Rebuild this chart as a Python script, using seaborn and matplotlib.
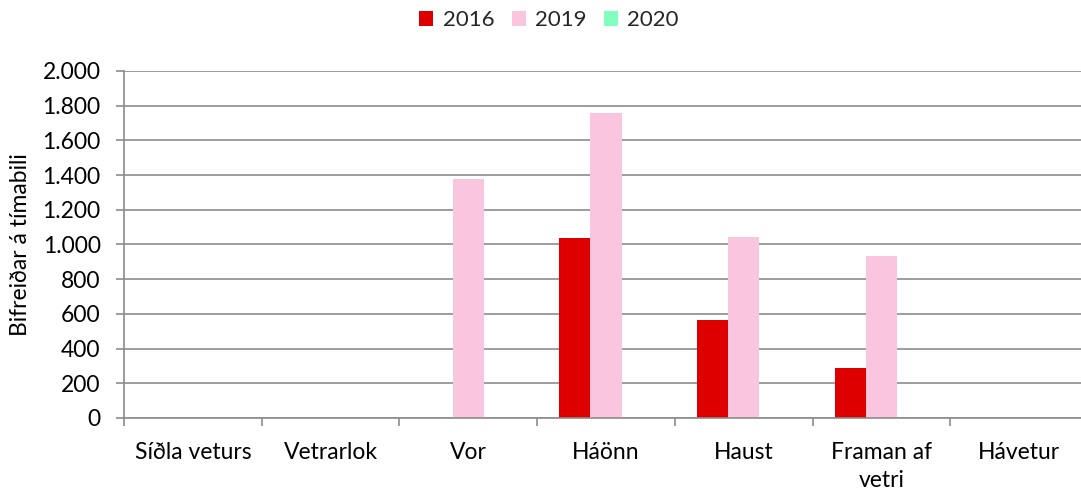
import numpy as np
import pandas as pd
import matplotlib
matplotlib.use("Agg")
import matplotlib.pyplot as plt
from matplotlib.ticker import FuncFormatter, FixedLocator
from matplotlib.patches import Patch
import seaborn as sns

categories = ["Síðla veturs", "Vetrarlok", "Vor", "Háönn", "Haust", "Framan af\nvetri", "Hávetur"]
years = ["2016", "2019", "2020"]
v2016 = [0, 0, 0, 1040, 562, 287, 0]
v2019 = [0, 0, 1375, 1758, 1045, 933, 0]
v2020 = [0, 0, 0, 0, 0, 0, 0]
colors = ["#DE0000", "#FAC6DF", "#80FFBF"]

rows = []
for yr, vals in zip(years, [v2016, v2019, v2020]):
    for c, v in zip(categories, vals):
        rows.append({"cat": c, "year": yr, "value": v})
df = pd.DataFrame(rows)

sns.set_theme(style="white")
plt.rcParams["font.family"] = ["Lato", "DejaVu Sans"]

W, H = 1081, 495
L, R, T, B = 124, 1088, 71, 418
fig = plt.figure(figsize=(W / 100, H / 100), dpi=100)
ax = fig.add_axes([L / W, 1 - B / H, (R - L) / W, (B - T) / H])

sns.barplot(data=df, x="cat", y="value", hue="year", order=categories, hue_order=years,
            palette=colors, saturation=1, width=0.68, linewidth=0, ax=ax, legend=False)

ax.set_ylim(0, 2000)
ax.set_xlim(-0.5, len(categories) - 0.5)
ax.set_yticks(np.arange(0, 2001, 200))
ax.yaxis.set_major_formatter(FuncFormatter(lambda v, p: f"{int(v):,}".replace(",", ".")))
ax.yaxis.grid(True, color="#8C8C8C", linewidth=1.2)
ax.set_axisbelow(True)

for s in ["top", "right"]:
    ax.spines[s].set_visible(False)
for s in ["left", "bottom"]:
    ax.spines[s].set_color("#8C8C8C")
    ax.spines[s].set_linewidth(1.2)

ax.tick_params(axis="y", which="major", direction="out", length=5.8, width=1.2, color="#8C8C8C",
               labelsize=16.5, labelcolor="black", pad=11, left=True)
ax.tick_params(axis="x", which="major", length=0, labelsize=16.5, labelcolor="black", pad=17)
for lab in ax.get_xticklabels():
    lab.set_linespacing(1.45)
ax.xaxis.set_minor_locator(FixedLocator(np.arange(-0.5, len(categories), 1.0)))
ax.tick_params(axis="x", which="minor", direction="out", length=5.8, width=1.2, color="#8C8C8C", bottom=True)

ax.set_xlabel("")
ax.set_ylabel("Bifreiðar á tímabili", fontsize=16.5, color="black")
ax.yaxis.set_label_coords((31 - L) / (R - L), 0.5)

handles = [Patch(facecolor=c, edgecolor="none") for c in colors]
fig.legend(handles, years, loc="center", bbox_to_anchor=(549 / W, 1 - 20 / H), ncol=3,
           frameon=False, fontsize=16, handlelength=0.64, handleheight=0.64,
           handletextpad=0.42, columnspacing=0.78)

fig.savefig("out.png", dpi=100)
